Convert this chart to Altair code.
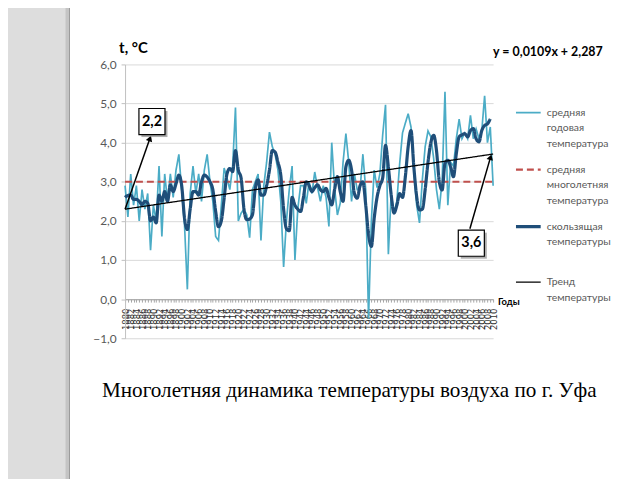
import altair as alt
import pandas as pd

# ---------------- data ----------------
years = list(range(1880, 2011))

annual_temp = [
    2.9, 2.1, 3.2, 2.4, 2.9, 2.0, 2.8, 2.3, 2.7, 1.25,
    2.4, 2.0, 3.4, 1.6, 3.2, 2.5, 3.2, 2.6, 3.3, 3.7,
    2.8, 1.9, 0.25, 2.7, 3.4, 2.7, 3.2, 2.5, 3.3, 3.7,
    3.0, 2.5, 1.6, 1.5, 2.4, 3.35, 3.1, 2.8, 3.4, 4.9,
    2.0, 2.2, 2.3, 2.15, 1.57, 2.8, 3.0, 3.2, 1.5, 2.9,
    3.5, 4.27, 3.9, 3.7, 3.3, 2.5, 0.82, 2.0, 2.8, 3.4,
    1.0, 2.3, 2.9, 2.9, 2.45, 3.0, 2.7, 3.25, 2.85, 2.5,
    2.9, 2.6, 1.86, 4.0, 2.85, 2.15, 2.45, 3.5, 4.23, 3.5,
    2.5, 3.2, 2.8, 2.8, 3.7, 2.8, -0.5, 2.0, 3.3, 2.85,
    3.2, 4.2, 4.97, 1.15, 2.7, 2.2, 2.5, 3.47, 4.25, 4.5,
    4.74, 4.4, 3.3, 2.4, 1.95, 3.05, 3.9, 4.3, 4.15, 3.6,
    2.8, 2.3, 3.05, 5.3, 2.4, 3.5, 3.4, 4.1, 4.6, 4.1,
    4.25, 4.1, 4.7, 4.1, 4.35, 4.1, 4.3, 5.2, 4.0, 4.4,
    2.9,
]

moving_avg = [
    2.6, 2.65, 2.66, 2.55, 2.55, 2.5, 2.42, 2.5, 2.45, 2.0,
    2.1, 1.95, 2.66, 2.5, 2.75, 2.5, 2.92, 2.75, 2.95, 3.17,
    2.9, 2.07, 1.78, 2.3, 2.75, 2.75, 2.66, 3.0, 3.17, 3.12,
    3.0, 2.8, 2.24, 1.85, 2.0, 2.58, 3.2, 3.34, 3.26, 3.8,
    3.3, 3.09, 2.3, 2.03, 2.05, 2.16, 2.83, 3.05, 2.66, 2.66,
    2.9, 3.3, 3.8, 3.76, 3.5, 3.17, 2.3, 1.8, 1.75, 2.6,
    2.4, 2.3, 2.24, 2.6, 3.0, 2.9, 2.75, 2.85, 2.92, 2.8,
    2.75, 2.83, 2.6, 2.41, 2.8, 3.13, 2.75, 2.5, 3.38, 3.55,
    3.3, 2.7, 2.58, 2.9, 3.0, 2.41, 1.65, 1.35, 2.07, 2.6,
    2.9, 3.1, 3.93, 3.38, 2.66, 2.2, 2.4, 2.7, 2.6, 3.13,
    3.9, 4.31, 3.38, 2.62, 2.28, 2.3, 2.8, 3.5, 4.0, 4.19,
    3.8, 3.0, 2.79, 3.47, 3.55, 3.38, 3.13, 3.72, 4.15, 4.2,
    4.23, 4.15, 4.31, 4.36, 4.1, 4.02, 4.31, 4.44, 4.48, 4.61,
    None,
]

mean_temp = 3.0
trend_years = [1880, 2010]
trend_values = [2.30, 3.71]

series_names = [
    "средняя|годовая|температура",
    "средняя|многолетняя|температура",
    "скользящая|температуры",
    "Тренд|температуры",
]
series_colors = ["#4bacc6", "#c0504d", "#1f4e79", "#000000"]

y_ticks = [-1, 0, 1, 2, 3, 4, 5, 6]

annot_labels = ["2,2", "3,6"]
annot_years = [1889.5, 2002.3]
annot_values = [4.54, 1.43]

arrow_from_years = [1880.0, 2001.8]
arrow_from_values = [2.30, 1.80]
arrow_to_years = [1888.8, 2009.1]
arrow_to_values = [4.11, 3.63]
arrow_angles = [20, 17]

y_title = "t, °C"
equation = "y = 0,0109x + 2,287"
x_title = "Годы"
caption = "Многолетняя динамика температуры воздуха по г. Уфа"

# ---------------- tables ----------------
rows = []
for yr, v in zip(years, annual_temp):
    rows.append({"year": yr, "value": v, "series": series_names[0]})
for yr in trend_years:
    rows.append({"year": yr, "value": mean_temp, "series": series_names[1]})
for yr, v in zip(years, moving_avg):
    if v is not None:
        rows.append({"year": yr, "value": v, "series": series_names[2]})
for yr, v in zip(trend_years, trend_values):
    rows.append({"year": yr, "value": v, "series": series_names[3]})
df = pd.DataFrame(rows)

annots = pd.DataFrame({"year": annot_years, "value": annot_values, "label": annot_labels})
arrows = pd.DataFrame({
    "x1": arrow_from_years, "y1": arrow_from_values,
    "x2": arrow_to_years, "y2": arrow_to_values,
    "angle": arrow_angles,
})

W, H = 371, 276
zero_offset = H / 7.0

x_scale = alt.Scale(domain=[1880, 2010], nice=False, zero=False)
y_scale = alt.Scale(domain=[-1, 6], nice=False, zero=False)

x_axis = alt.Axis(
    values=years, title=None, grid=False, offset=-zero_offset,
    labelExpr="datum.value % 2 == 0 ? '' + datum.value : ''",
    labelAngle=-90, labelFont="DejaVu Sans", labelFontSize=8.5,
    labelColor="#333333", labelOverlap=False, labelPadding=6,
    labelBound=False, labelFlush=False,
    tickSize=3, tickColor="#a6a6a6", domainColor="#a6a6a6",
)
y_axis = alt.Axis(
    values=y_ticks, title=None, grid=True, gridColor="#d9d9d9",
    labelExpr="replace(format(datum.value, '.1f'), '.', ',')",
    labelFont="Lato", labelFontSize=12, labelColor="#595959",
    labelPadding=5, tickSize=4, tickColor="#bfbfbf",
    labelOverlap=False, labelFlush=False, labelBound=False,
    domain=True, domainColor="#bfbfbf",
)


def ax_x(f):
    return alt.X(f, scale=x_scale, axis=x_axis)


def ax_y(f):
    return alt.Y(f, scale=y_scale, axis=y_axis)


leg = alt.Legend(labelExpr="split(datum.label, '|')", title=None)
color_enc = alt.Color("series:N", scale=alt.Scale(domain=series_names, range=series_colors), legend=leg)
dash_enc = alt.StrokeDash("series:N", scale=alt.Scale(domain=series_names,
                                                      range=[[1, 0], [7, 4], [1, 0], [1, 0]]), legend=leg)
width_enc = alt.StrokeWidth("series:N", scale=alt.Scale(type="ordinal", domain=series_names,
                                                        range=[1.7, 2.2, 3.2, 1.3]), legend=leg)

base = alt.Chart(df)


def series_layer(i, interp):
    return base.transform_filter(alt.datum.series == series_names[i]).mark_line(
        interpolate=interp
    ).encode(x=ax_x("year:Q"), y=ax_y("value:Q"), color=color_enc,
             strokeDash=dash_enc, strokeWidth=width_enc)


light = series_layer(0, "linear")
mean_line = series_layer(1, "linear")
dark = series_layer(2, "monotone")
trend = series_layer(3, "linear")

arrow_lines = alt.Chart(arrows).mark_rule(color="black", strokeWidth=1.5).encode(
    x=ax_x("x1:Q"), y=ax_y("y1:Q"), x2="x2:Q", y2="y2:Q"
)
arrow_heads = alt.Chart(arrows).mark_point(shape="triangle-up", filled=True, color="black",
                                           size=45, opacity=1).encode(
    x=ax_x("x2:Q"), y=ax_y("y2:Q"), angle=alt.Angle("angle:Q", scale=None)
)

box_shadow = alt.Chart(annots).mark_square(size=690, color="#8c8c8c", opacity=0.7,
                                           xOffset=2.5, yOffset=2.5).encode(
    x=ax_x("year:Q"), y=ax_y("value:Q"))
box = alt.Chart(annots).mark_square(size=690, fill="white", stroke="black",
                                    strokeWidth=1.2, opacity=1).encode(
    x=ax_x("year:Q"), y=ax_y("value:Q"))
box_text = alt.Chart(annots).mark_text(font="Lato", fontSize=14.5, fontWeight="bold",
                                       color="black").encode(
    x=ax_x("year:Q"), y=ax_y("value:Q"), text="label:N")


def text_layer(txt, x, y, **kw):
    return alt.Chart(pd.DataFrame({"t": [txt]})).mark_text(**kw).encode(
        x=alt.value(x), y=alt.value(y), text="t:N")


stripe_df = pd.DataFrame({"k": [0]})
stripe = alt.Chart(stripe_df).mark_rect(color="#dddddd").encode(
    x=alt.value(-126), x2=alt.value(-57), y=alt.value(-80), y2=alt.value(430))
stripe_edge = alt.Chart(stripe_df).mark_rect(color="#c4c4c4").encode(
    x=alt.value(-60), x2=alt.value(-56), y=alt.value(-80), y2=alt.value(430))
stripe_line = alt.Chart(stripe_df).mark_rule(color="#9a9a9a", strokeWidth=1).encode(
    x=alt.value(-56), y=alt.value(-80), y2=alt.value(430))

t_title = text_layer(y_title, -6, -17, align="left", baseline="middle", font="Lato",
                     fontSize=15, fontWeight="bold", color="black")
eq_text = text_layer(equation, 371, -13, align="left", baseline="middle", font="Lato",
                     fontSize=12.5, fontWeight="bold", color="black")
x_label = text_layer(x_title, 376, H - zero_offset + 3, align="left", baseline="middle",
                     font="Lato", fontSize=9.5, fontWeight="bold", color="black")
cap_text = text_layer(caption, 226, 335, align="center", baseline="alphabetic",
                      font="Liberation Serif", fontSize=21.3, color="black")

chart = alt.layer(
    stripe, stripe_edge, stripe_line,
    light, mean_line, dark, trend,
    arrow_lines, arrow_heads, box_shadow, box, box_text,
    t_title, eq_text, x_label, cap_text,
).properties(
    width=W, height=H,
    autosize=alt.AutoSizeParams(type="none"),
    padding={"left": 118, "top": 55, "right": 140, "bottom": 140},
    background="white",
).configure(
    style={"guide-label": {"lineHeight": 16}}
).configure_view(stroke=None).configure_legend(
    orient="none", legendX=392, legendY=35, symbolType="stroke", symbolSize=620,
    labelFont="Lato", labelFontSize=10.5, labelColor="#595959",
    gridAlign="all", rowPadding=5, labelLimit=200, titlePadding=0,
)

chart.save("out.html", embed_options={"renderer": "svg", "actions": False})
